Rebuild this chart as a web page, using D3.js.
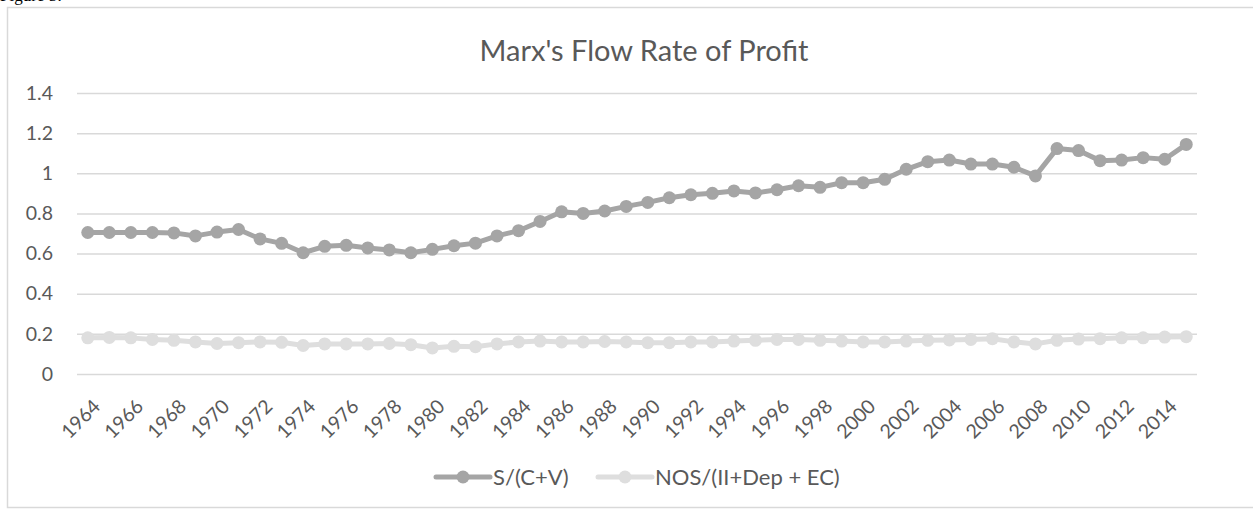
<!DOCTYPE html>
<html>
<head>
<meta charset="utf-8">
<script src="https://cdn.jsdelivr.net/npm/d3@7"></script>
<style>
  body { margin: 0; background: #ffffff; }
  svg { display: block; }
</style>
</head>
<body>
<div id="chart"></div>
<script>
// Colour codes.
const textColor = "#595959";
const gridColor = "#d9d9d9";
const darkGrey = "#a5a5a5";
const lightGrey = "#dedede";
const fontFamily = "Lato, 'Open Sans', sans-serif";

// Data.
const years = d3.range(1964, 2016);

const flowRate = [
  0.705, 0.705, 0.705, 0.705, 0.703, 0.688, 0.707, 0.720, 0.673, 0.651,
  0.604, 0.636, 0.641, 0.628, 0.618, 0.604, 0.621, 0.639, 0.652, 0.688,
  0.714, 0.760, 0.808, 0.800, 0.812, 0.835, 0.855, 0.878, 0.893, 0.900,
  0.912, 0.902, 0.918, 0.938, 0.930, 0.953, 0.953, 0.970, 1.020, 1.058,
  1.066, 1.046, 1.046, 1.030, 0.987, 1.123, 1.113, 1.063, 1.066, 1.078,
  1.070, 1.144
];

const nosRate = [
  0.180, 0.182, 0.180, 0.172, 0.168, 0.160, 0.152, 0.156, 0.160, 0.158,
  0.142, 0.150, 0.150, 0.150, 0.152, 0.146, 0.130, 0.138, 0.136, 0.150,
  0.160, 0.164, 0.160, 0.160, 0.162, 0.160, 0.156, 0.156, 0.160, 0.160,
  0.164, 0.168, 0.172, 0.172, 0.168, 0.164, 0.160, 0.160, 0.164, 0.168,
  0.170, 0.172, 0.176, 0.160, 0.150, 0.168, 0.174, 0.176, 0.180, 0.180,
  0.184, 0.186
];

const yTicks = [0, 0.2, 0.4, 0.6, 0.8, 1, 1.2, 1.4];
const xTickYears = years.filter(d => d % 2 === 0);

const seriesNames = ["S/(C+V)", "NOS/(II+Dep + EC)"];

// Dimensions.
const W = 1253, H = 512;
const plot = {left: 77, right: 1197, top: 93, bottom: 374};

const svg = d3.select("#chart")
  .append("svg")
    .attr("width", W)
    .attr("height", H);

// Caption above the chart, mostly cut off.
svg.append("text")
    .attr("x", 0)
    .attr("y", 1)
    .style("font-family", "'Liberation Serif', serif")
    .style("font-size", "17px")
    .style("fill", "#000")
    .text("Figure 5:");

// Chart border.
svg.append("rect")
    .attr("x", 7.5)
    .attr("y", 7.5)
    .attr("width", W + 20)
    .attr("height", 500)
    .attr("fill", "#fff")
    .attr("stroke", gridColor)
    .attr("stroke-width", 1.5);

// Scales.
const x = d3.scaleBand()
  .domain(years)
  .range([plot.left, plot.right]);

const y = d3.scaleLinear()
  .domain([0, 1.4])
  .range([plot.bottom, plot.top]);

const cx = d => x(d) + x.bandwidth() / 2;

// Gridlines.
svg.append("g")
    .attr("transform", "translate(" + plot.left + ",0)")
    .call(d3.axisLeft(y)
      .tickValues(yTicks)
      .tickSize(-(plot.right - plot.left))
      .tickFormat(""))
    .call(g => g.select(".domain").remove())
    .call(g => g.selectAll("line")
      .attr("stroke", gridColor)
      .attr("stroke-width", 1.5));

// Y-axis labels.
svg.append("g")
    .attr("transform", "translate(" + (plot.left - 24) + ",0)")
    .call(d3.axisLeft(y)
      .tickValues(yTicks)
      .tickSize(0)
      .tickPadding(0)
      .tickFormat(d => d3.format("")(+d.toFixed(1))))
    .call(g => g.select(".domain").remove())
    .call(g => g.selectAll("text")
      .style("font-family", fontFamily)
      .style("font-size", "19.5px")
      .style("fill", textColor));

// X-axis labels, rotated.
svg.append("g")
    .attr("transform", "translate(0," + plot.bottom + ")")
    .call(d3.axisBottom(x)
      .tickValues(xTickYears)
      .tickSize(0))
    .call(g => g.select(".domain").remove())
    .call(g => g.selectAll("text")
      .style("font-family", fontFamily)
      .style("font-size", "19.5px")
      .style("fill", textColor)
      .attr("text-anchor", "end")
      .attr("dy", "0.7em")
      .attr("y", 0)
      .attr("transform", "translate(4,24) rotate(-45)"));

// The lines and markers.
const series = [
  {name: seriesNames[1], values: nosRate, color: lightGrey},
  {name: seriesNames[0], values: flowRate, color: darkGrey}
];

const line = d3.line()
  .x((d, i) => cx(years[i]))
  .y(d => y(d));

series.forEach(s => {
  svg.append("path")
      .datum(s.values)
      .attr("d", line)
      .attr("fill", "none")
      .attr("stroke", s.color)
      .attr("stroke-width", 5)
      .attr("stroke-linejoin", "round");

  svg.append("g")
    .selectAll("circle")
    .data(s.values)
    .join("circle")
      .attr("cx", (d, i) => cx(years[i]))
      .attr("cy", d => y(d))
      .attr("r", 6.5)
      .attr("fill", s.color);
});

// Title.
svg.append("text")
    .attr("x", (plot.left + plot.right) / 2 + 7)
    .attr("y", 61)
    .attr("text-anchor", "middle")
    .style("font-family", fontFamily)
    .style("font-size", "29px")
    .style("fill", textColor)
    .text("Marx's Flow Rate of Profit");

// Legend.
const legendItems = [
  {name: seriesNames[0], color: darkGrey, x: 436},
  {name: seriesNames[1], color: lightGrey, x: 598}
];

const legend = svg.append("g")
    .attr("transform", "translate(0,477)");

legendItems.forEach(item => {
  legend.append("line")
      .attr("x1", item.x)
      .attr("x2", item.x + 54)
      .attr("y1", 0)
      .attr("y2", 0)
      .attr("stroke", item.color)
      .attr("stroke-width", 5)
      .attr("stroke-linecap", "round");
  legend.append("circle")
      .attr("cx", item.x + 27)
      .attr("cy", 0)
      .attr("r", 6.5)
      .attr("fill", item.color);
  legend.append("text")
      .attr("x", item.x + 57)
      .attr("y", 0)
      .attr("dy", "0.36em")
      .style("font-family", fontFamily)
      .style("font-size", "22px")
      .style("fill", textColor)
      .text(item.name);
});
</script>
</body>
</html>
